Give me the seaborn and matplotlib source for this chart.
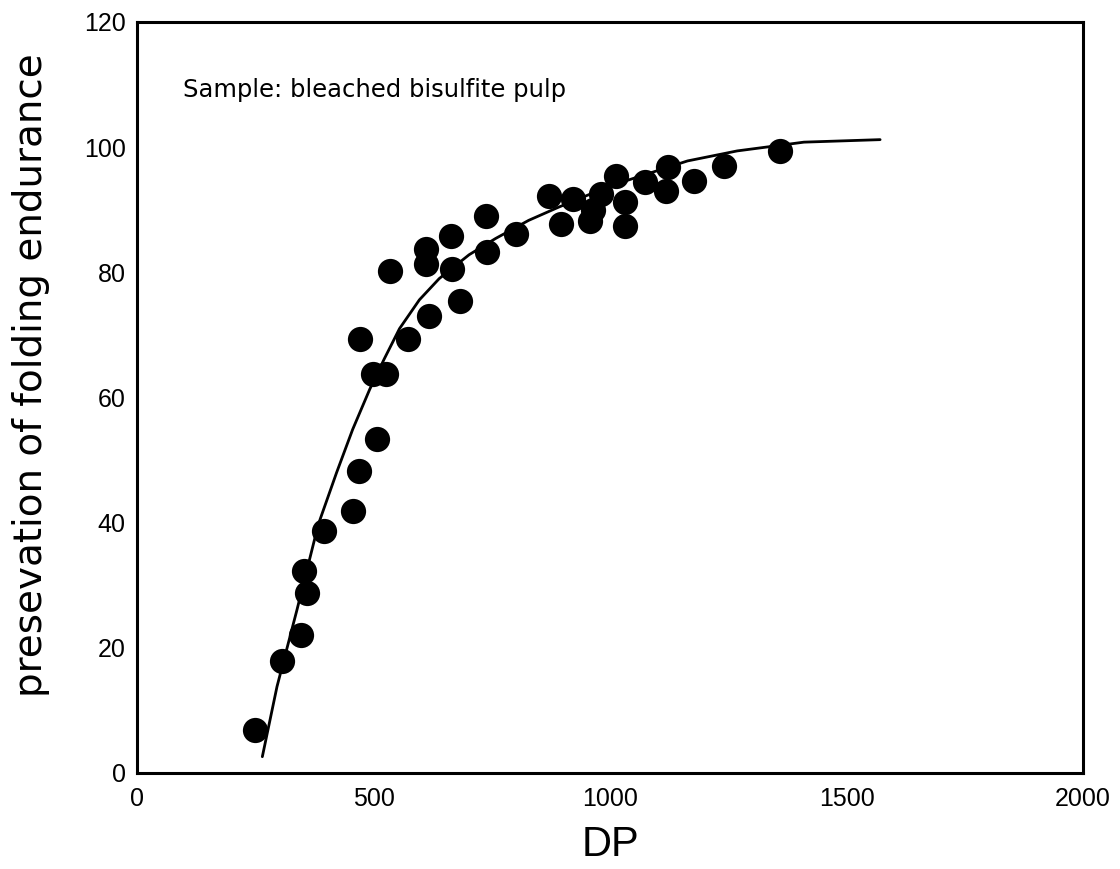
import numpy as np
import pandas as pd
import matplotlib
matplotlib.use('Agg')
import matplotlib.pyplot as plt
import seaborn as sns

dp_points = [250, 307, 347, 359, 353, 395, 456, 470, 508, 498, 527, 472, 573,
             618, 683, 535, 611, 611, 664, 666, 739, 737, 802, 870, 897, 922,
             964, 958, 981, 1013, 1031, 1031, 1073, 1122, 1118, 1178, 1241, 1359]
fold_points = [6.9, 17.9, 22.0, 28.8, 32.3, 38.6, 41.8, 48.2, 53.3, 63.8, 63.8,
               69.3, 69.3, 73.0, 75.4, 80.2, 81.3, 83.7, 85.8, 80.5, 83.2, 89.0,
               86.1, 92.2, 87.7, 91.7, 90.0, 88.2, 92.5, 95.4, 87.4, 91.2, 94.4,
               96.8, 93.0, 94.6, 97.0, 99.4]

# fitted curve
dp_curve = [265, 296, 338, 376, 387, 422, 456, 492, 523, 555, 597, 639, 702,
            758, 828, 891, 1000, 1164, 1269, 1410, 1571]
fold_curve = [2.6, 13.8, 26.0, 37.5, 40.5, 48.0, 54.9, 61.3, 66.2, 71.0, 75.6,
              79.0, 82.8, 85.4, 88.3, 90.4, 93.8, 97.8, 99.4, 100.8, 101.2]

x_ticks = [0, 500, 1000, 1500, 2000]
y_ticks = [0, 20, 40, 60, 80, 100, 120]

pts = pd.DataFrame({'DP': dp_points, 'fold': fold_points})
curve = pd.DataFrame({'DP': dp_curve, 'fold': fold_curve})

sns.set_style('white')
plt.rcParams['font.family'] = ['Liberation Sans', 'DejaVu Sans']
plt.rcParams['text.color'] = 'black'
plt.rcParams['axes.labelcolor'] = 'black'
plt.rcParams['xtick.color'] = 'black'
plt.rcParams['ytick.color'] = 'black'

fig = plt.figure(figsize=(11.2, 8.69), dpi=100)
ax = fig.add_axes([0.1223, 0.1105, 0.8447, 0.8642])

sns.lineplot(data=curve, x='DP', y='fold', color='black', linewidth=2,
             ax=ax, sort=False)
sns.scatterplot(data=pts, x='DP', y='fold', color='black', s=330,
                edgecolor='black', linewidth=0, ax=ax, zorder=3)

ax.set_xlim(0, 2000)
ax.set_ylim(0, 120)
ax.set_xticks(x_ticks)
ax.set_yticks(y_ticks)
ax.tick_params(axis='x', direction='in', length=12, width=1.5, labelsize=18,
               pad=10)
ax.tick_params(axis='y', length=0, labelsize=18, pad=8)
for sp in ax.spines.values():
    sp.set_visible(True)
    sp.set_color('black')
    sp.set_linewidth(2.2)

ax.set_xlabel('DP', fontsize=30, labelpad=10)
ax.set_ylabel('presevation of folding endurance', fontsize=28,
              family=['DejaVu Sans'])
ax.yaxis.set_label_coords(-0.092, 0.53)

ax.text(98, 108, 'Sample: bleached bisulfite pulp', fontsize=17.5,
        family=['DejaVu Sans'], ha='left', va='baseline')

fig.savefig('out.png', dpi=100)
